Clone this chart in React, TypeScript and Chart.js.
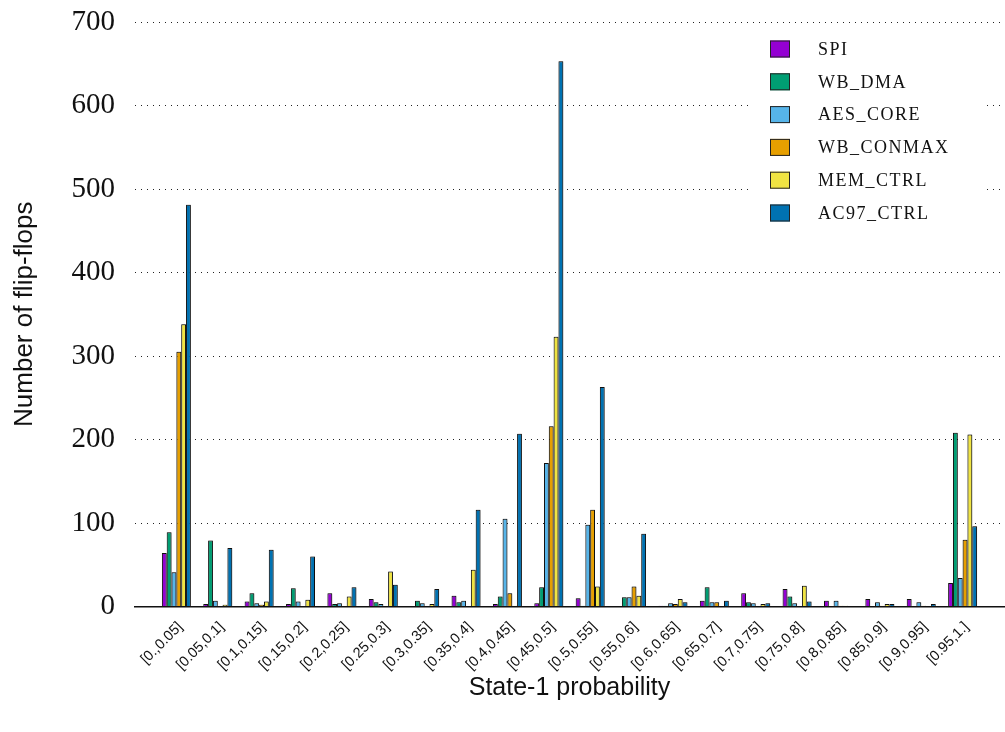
import React, { useEffect, useRef } from "react";
import { Chart, registerables } from "chart.js";

Chart.register(...registerables);

const categories = [
  "[0.,0.05]", "[0.05,0.1]", "[0.1,0.15]", "[0.15,0.2]", "[0.2,0.25]",
  "[0.25,0.3]", "[0.3,0.35]", "[0.35,0.4]", "[0.4,0.45]", "[0.45,0.5]",
  "[0.5,0.55]", "[0.55,0.6]", "[0.6,0.65]", "[0.65,0.7]", "[0.7,0.75]",
  "[0.75,0.8]", "[0.8,0.85]", "[0.85,0.9]", "[0.9,0.95]", "[0.95,1.]",
];

const seriesNames = ["SPI", "WB_DMA", "AES_CORE", "WB_CONMAX", "MEM_CTRL", "AC97_CTRL"];
const seriesColors = ["#9400D3", "#009E73", "#56B4E9", "#E69F00", "#F0E442", "#0072B2"];

const spi = [64, 3, 6, 3, 16, 9, 0, 13, 3, 4, 10, 0, 1, 7, 16, 21, 7, 9, 9, 28];
const wbDma = [89, 79, 16, 22, 3, 5, 7, 5, 12, 23, 1, 11, 1, 23, 5, 12, 0, 0, 0, 208];
const aesCore = [41, 7, 4, 6, 4, 3, 4, 7, 105, 172, 98, 11, 4, 5, 4, 4, 7, 5, 5, 34];
const wbConmax = [305, 0, 2, 0, 0, 0, 0, 0, 16, 216, 116, 24, 3, 5, 0, 0, 1, 1, 1, 80];
const memCtrl = [338, 2, 6, 8, 12, 42, 3, 44, 1, 323, 24, 13, 9, 0, 3, 25, 1, 3, 0, 206];
const ac97Ctrl = [481, 70, 68, 60, 23, 26, 21, 116, 207, 653, 263, 87, 5, 7, 4, 6, 0, 3, 3, 96];

const seriesValues = [spi, wbDma, aesCore, wbConmax, memCtrl, ac97Ctrl];

const yMin = 0;
const yMax = 700;
const yStep = 100;

const xTitle = "State-1 probability";
const yTitle = "Number of flip-flops";

const shadowPlugin = {
  id: "barShadow",
  beforeDatasetsDraw(chart: any) {
    const ctx = chart.ctx;
    ctx.save();
    ctx.shadowColor = "rgba(0,0,0,0.45)";
    ctx.shadowBlur = 2.5;
    ctx.shadowOffsetX = 0.5;
    ctx.shadowOffsetY = 0;
  },
  afterDatasetsDraw(chart: any) {
    chart.ctx.restore();
  },
};

const legendPlugin = {
  id: "insideLegend",
  afterDatasetsDraw(chart: any) {
    const ctx = chart.ctx;
    ctx.save();
    ctx.fillStyle = "#ffffff";
    ctx.fillRect(752, 28, 233, 208);
    const startY = 49;
    const stepY = 32.8;
    chart.data.datasets.forEach((ds: any, i: number) => {
      const cy = startY + i * stepY;
      ctx.fillStyle = ds.backgroundColor;
      ctx.fillRect(770, cy - 8.5, 20, 17);
      ctx.strokeStyle = "#222";
      ctx.lineWidth = 1;
      ctx.strokeRect(770.5, cy - 8, 19, 16);
      ctx.fillStyle = "#111";
      ctx.font = "18px 'Liberation Serif'";
      try {
        (ctx as any).letterSpacing = "1.5px";
      } catch (e) {}
      ctx.textAlign = "left";
      ctx.textBaseline = "middle";
      ctx.fillText(String(ds.label).toUpperCase(), 818, cy + 1);
    });
    ctx.restore();
  },
};

export default function App() {
  const canvasRef = useRef<HTMLCanvasElement | null>(null);

  useEffect(() => {
    document.body.style.margin = "0";
    const canvas = canvasRef.current;
    if (!canvas) return;
    const labels = ["", ...categories, ""];
    const chart = new Chart(canvas, {
      type: "bar",
      data: {
        labels,
        datasets: seriesNames.map((name, i) => ({
          label: name,
          data: [null, ...seriesValues[i], null],
          backgroundColor: seriesColors[i],
          borderColor: "#111111",
          borderWidth: 1,
          categoryPercentage: 0.7,
          barPercentage: 1.0,
        })),
      },
      options: {
        animation: false,
        responsive: true,
        maintainAspectRatio: false,
        layout: { padding: { top: 22, right: 1, left: 0, bottom: 0 } },
        plugins: {
          legend: { display: false },
          tooltip: { enabled: false },
        },
        scales: {
          x: {
            type: "category",
            offset: false,
            grid: { display: false, drawTicks: false },
            border: { display: true, color: "#111", width: 1.5 },
            ticks: {
              autoSkip: false,
              minRotation: 45,
              maxRotation: 45,
              padding: 12,
              labelOffset: 4,
              color: "#111",
              font: { family: "'Liberation Sans'", size: 14.5 },
            },
            title: {
              display: true,
              text: xTitle,
              color: "#111",
              font: { family: "'Liberation Sans'", size: 25 },
              padding: { top: 0, bottom: 29 },
            },
            afterFit(scale: any) {
              scale.height = 125.5;
              scale.paddingLeft = 0;
              scale.paddingRight = 0;
            },
          },
          y: {
            min: yMin,
            max: yMax,
            ticks: {
              stepSize: yStep,
              padding: 20,
              color: "#111",
              font: { family: "'Liberation Serif'", size: 29 },
            },
            grid: { color: "#222", lineWidth: 1, drawTicks: false },
            border: { display: false, dash: [1, 5] },
            title: {
              display: true,
              text: yTitle,
              color: "#111",
              font: { family: "'Liberation Sans'", size: 26 },
              padding: { top: 9, bottom: 0 },
            },
            afterFit(scale: any) {
              scale.width = 135;
              scale.paddingTop = 0;
              scale.paddingBottom = 0;
            },
          },
        },
      },
      plugins: [shadowPlugin, legendPlugin],
    });
    return () => chart.destroy();
  }, []);

  return (
    <div style={{ position: "relative", width: "1005px", height: "732px" }}>
      <canvas ref={canvasRef} />
    </div>
  );
}
